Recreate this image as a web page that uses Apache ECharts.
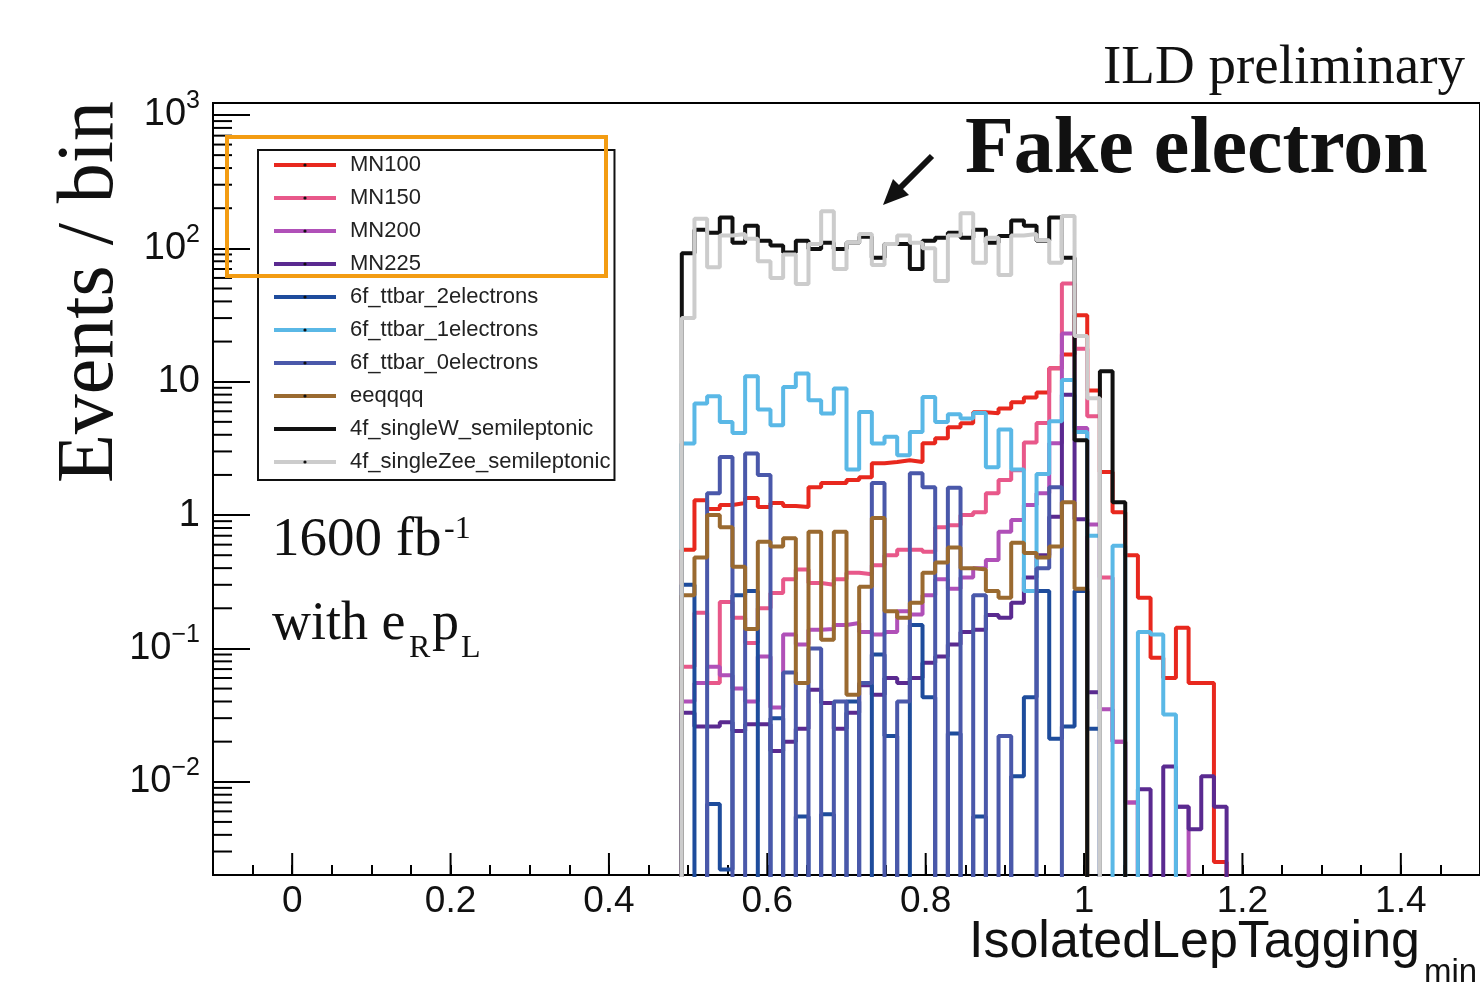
<!DOCTYPE html>
<html>
<head>
<meta charset="utf-8">
<script src="https://cdn.jsdelivr.net/npm/echarts@6/dist/echarts.min.js"></script>
<style>
html, body { margin: 0; padding: 0; background: #fff; }
#chart { width: 1480px; height: 990px; }
</style>
</head>
<body>
<div id="chart"></div>
<script>
// binning: 100 bins over [-0.1, 1.5], the filled ones start at 0.492
const firstEdge = 0.492
const binWidth = 0.016
const emptyBin = 1e-6   // zero content, drawn below the frame like ROOT does on log scale

const names = ["MN100", "MN150", "MN200", "MN225", "6f_ttbar_2electrons", "6f_ttbar_1electrons",
    "6f_ttbar_0electrons", "eeqqqq", "4f_singleW_semileptonic", "4f_singleZee_semileptonic"]
const colors = ["#e8281e", "#e8588a", "#b050b8", "#5a2a90", "#1e4c9c", "#5ab8e6",
    "#4a58aa", "#9a6a30", "#111111", "#cccccc"]

// events per bin, first entry = bin starting at firstEdge
const mn100 = [0.55, 1.29, 1.11, 1.19, 1.23, 1.34, 1.15, 1.23, 1.17, 1.15, 1.62, 1.74, 1.74, 1.83, 1.92, 2.45,
    2.5, 2.58, 2.5, 3.46, 3.77, 4.56, 4.88, 5.9, 5.8, 6.3, 7.0, 7.6, 8.3, 12.6, 16, 31.5, 8.6, 2.1, 1.05, 0.5,
    0.24, 0.085, 0.06, 0.143, 0.055, 0.055, 0.0025]
const mn150 = [0.073, 0.185, 0.055, 0.223, 0.17, 0.11, 0.2, 0.26, 0.33, 0.39, 0.31, 0.3, 0.33, 0.37, 0.36, 0.42,
    0.5, 0.55, 0.55, 0.53, 0.81, 0.84, 1.0, 1.05, 1.46, 1.83, 2.17, 3.5, 4.9, 12.6, 54.5, 17.7, 5.5, 0.34, 0.02, 0.007]
const mn200 = [0.04, 0.055, 0.073, 0.063, 0.05, 0.04, 0.087, 0.036, 0.127, 0.107, 0.138, 0.14, 0.15, 0.155, 0.133,
    0.127, 0.133, 0.19, 0.18, 0.25, 0.33, 0.28, 0.34, 0.4, 0.46, 0.75, 0.92, 1.19, 1.46, 3.46, 23, 4.5, 0.85, 0.035,
    0.02, 0.007, 0, 0, 0, 0.0065]
const mn225 = [0.033, 0.026, 0.026, 0.028, 0.024, 0.027, 0.027, 0.017, 0.02, 0.025, 0.049, 0.039, 0.025, 0.033, 0.053,
    0.045, 0.06, 0.055, 0.06, 0.078, 0.087, 0.107, 0.133, 0.138, 0.178, 0.17, 0.22, 0.34, 0.5, 0.97, 8.0, 0.93, 0.047,
    0, 0, 0, 0.0088, 0, 0.013, 0.0065, 0.0044, 0.011, 0.0065]
const ttbar2e = [0.3, 0, 0.0068, 0.0022, 0.25, 0.27, 0, 0.03, 0, 0.0055, 0, 0.0057, 0, 0.04, 0, 0.09, 0.022, 0, 0.15,
    0.043, 0, 0.023, 0, 0.0055, 0, 0, 0.011, 0.043, 0.27, 0.021, 0.026, 0.27, 0.025]
const ttbar1e = [3.44, 6.86, 7.78, 4.99, 4.13, 10.97, 6.18, 4.72, 9.13, 11.5, 7.26, 5.77, 8.88, 2.2, 5.93, 3.44, 3.86,
    2.81, 4.2, 7.68, 4.99, 5.7, 5.3, 5.83, 2.28, 4.38, 2.2, 0.27, 2.03, 5.05, 10.3, 4.2, 0.7, 0, 0.59, 0, 0.133, 0.127, 0.032]
const ttbar0e = [0, 0, 1.46, 2.72, 0, 2.9, 2.0, 0, 0.066, 0, 0.1, 0, 0.04, 0, 0.055, 1.74, 0, 0.04, 2.06, 1.62, 0, 1.6,
    0, 0.25, 0, 0.022, 0, 0, 0.4, 1.62, 0]
const eeqqqq = [0.25, 0.48, 1.0, 0.81, 0.41, 0.14, 0.63, 0.58, 0.67, 0.055, 0.75, 0.116, 0.75, 0.045, 0.29, 0.95, 0.19,
    0.17, 0.22, 0.37, 0.44, 0.57, 0.4, 0.39, 0.27, 0.24, 0.62, 0.52, 0.48, 0.58, 1.25, 0.28]
const singleW = [92, 138, 131, 170, 110, 148, 114, 105, 93, 114, 99, 110, 99, 110, 122, 85, 108, 108, 70, 114, 120, 131,
    120, 138, 110, 124, 162, 148, 114, 170, 85, 3.64, 0, 12, 1.25]
const singleZee = [30, 167, 72, 125, 128, 118, 80, 60, 90, 54, 108, 190, 70, 110, 128, 75, 108, 125, 110, 100, 57, 125,
    183, 78, 120, 63, 125, 128, 115, 78, 175, 22, 7.5]

const histos = [mn100, mn150, mn200, mn225, ttbar2e, ttbar1e, ttbar0e, eeqqqq, singleW, singleZee]

// axis ticks
const xMin = -0.1, xMax = 1.5
const yMin = 0.002, yMax = 1230
const xMajorTicks = [0, 0.2, 0.4, 0.6, 0.8, 1.0, 1.2, 1.4]
const yMinorTicks = [0.003, 0.004, 0.005, 0.006, 0.007, 0.008, 0.009,
    0.02, 0.03, 0.04, 0.05, 0.06, 0.07, 0.08, 0.09,
    0.2, 0.3, 0.4, 0.5, 0.6, 0.7, 0.8, 0.9,
    2, 3, 4, 5, 6, 7, 8, 9,
    20, 30, 40, 50, 60, 70, 80, 90,
    200, 300, 400, 500, 600, 700, 800, 900]

const serif = "'Liberation Serif', 'DejaVu Serif', serif"
const sans = "'Liberation Sans', Arial, sans-serif"

function histPoints(vals) {
    let pts = [[firstEdge - binWidth, emptyBin]]
    vals.forEach(function (v, i) {
        pts.push([+(firstEdge + i * binWidth).toFixed(4), v > 0 ? v : emptyBin])
    })
    pts.push([+(firstEdge + vals.length * binWidth).toFixed(4), emptyBin])
    return pts
}

let series = histos.map(function (vals, i) {
    return {
        name: names[i],
        type: 'line',
        step: 'end',
        data: histPoints(vals),
        showSymbol: false,
        symbol: 'circle',
        symbolSize: 3,
        clip: true,
        silent: true,
        z: 10 + i,
        lineStyle: {color: colors[i], width: 4},
        itemStyle: {color: colors[i]}
    }
})

series.push({
    type: 'custom',
    silent: true,
    z: 5,
    data: xMajorTicks.map(function (v) { return [v, yMin] }),
    renderItem: function (params, api) {
        let p = api.coord([api.value(0), yMin])
        return {type: 'line', shape: {x1: p[0], y1: p[1], x2: p[0], y2: p[1] - 22},
            style: {stroke: '#000', lineWidth: 2}}
    }
})
series.push({
    type: 'custom',
    silent: true,
    z: 5,
    data: yMinorTicks.map(function (v) { return [xMin, v] }),
    renderItem: function (params, api) {
        let p = api.coord([xMin, api.value(1)])
        return {type: 'line', shape: {x1: p[0], y1: p[1], x2: p[0] + 19, y2: p[1]},
            style: {stroke: '#000', lineWidth: 2}}
    }
})

let chart = echarts.init(document.getElementById('chart'))

let option = {
    animation: false,
    backgroundColor: '#fff',
    grid: {
        left: 213, right: 0, top: 103, bottom: 115,
        show: true, borderColor: '#000', borderWidth: 2,
        outerBoundsMode: 'none'
    },
    xAxis: {
        type: 'value', min: xMin, max: xMax, interval: 0.05,
        axisLine: {onZero: false, lineStyle: {color: '#000', width: 2}},
        axisTick: {inside: true, length: 10, lineStyle: {color: '#000', width: 2}},
        splitLine: {show: false},
        axisLabel: {
            margin: 8, fontSize: 37, color: '#111', fontFamily: sans,
            showMinLabel: false, showMaxLabel: false,
            formatter: function (v) {
                let k = v / 0.2
                if (Math.abs(k - Math.round(k)) > 1e-6 || v < -1e-9) return ''
                return String(+v.toFixed(1))
            }
        }
    },
    yAxis: {
        type: 'log', logBase: 10, min: yMin, max: yMax,
        axisLine: {show: true, onZero: false, lineStyle: {color: '#000', width: 2}},
        axisTick: {inside: true, length: 37, lineStyle: {color: '#000', width: 2}},
        splitLine: {show: false},
        minorTick: {show: false},
        axisLabel: {
            margin: 13, color: '#111', fontFamily: sans,
            showMinLabel: false, showMaxLabel: false,
            formatter: function (v) {
                let e = Math.log10(v)
                let n = Math.round(e)
                if (Math.abs(e - n) > 0.01) return ''
                if (n === 0) return '{b|1}'
                if (n === 1) return '{b|10}'
                return '{b|10}{s|' + (n < 0 ? '\u2212' + (-n) : n) + '}'
            },
            rich: {
                b: {fontSize: 38, lineHeight: 52, fontFamily: sans, color: '#111'},
                s: {fontSize: 25, lineHeight: 25, fontFamily: sans, color: '#111', verticalAlign: 'top'}
            }
        }
    },
    legend: {
        orient: 'vertical', left: 258, top: 150, z: 50,
        padding: [4, 4, 7, 14], itemGap: 11, itemWidth: 62, itemHeight: 4,
        backgroundColor: '#fff', borderColor: '#111', borderWidth: 2,
        selectedMode: false,
        data: names,
        itemStyle: {color: '#111', borderWidth: 0},
        lineStyle: {width: 4},
        textStyle: {fontFamily: sans, fontSize: 22, lineHeight: 22, color: '#222', padding: [0, 0, 0, 9]}
    },
    graphic: [
        {type: 'text', x: 1465, y: 69, z: 60,
            style: {text: 'ILD preliminary', fontSize: 55, fontFamily: serif, fill: '#111', align: 'right', verticalAlign: 'middle'}},
        {type: 'text', x: 965, y: 151, z: 60,
            style: {text: 'Fake electron', fontSize: 80, fontWeight: 'bold', fontFamily: serif, fill: '#111', align: 'left', verticalAlign: 'middle'}},
        {type: 'line', z: 60, shape: {x1: 932, y1: 156, x2: 898, y2: 190}, style: {stroke: '#111', lineWidth: 6}},
        {type: 'polygon', z: 60, shape: {points: [[883, 205], [909, 195], [893, 179]]}, style: {fill: '#111'}},
        {type: 'text', x: 91, y: 292, rotation: Math.PI / 2, z: 60,
            style: {text: 'Events / bin', fontSize: 80, fontFamily: serif, fill: '#111', align: 'center', verticalAlign: 'middle'}},
        {type: 'text', x: 1420, y: 943, z: 60,
            style: {text: 'IsolatedLepTagging', fontSize: 52, fontFamily: sans, fill: '#111', align: 'right', verticalAlign: 'middle'}},
        {type: 'text', x: 1424, y: 973, z: 60,
            style: {text: 'min', fontSize: 33, fontFamily: sans, fill: '#111', align: 'left', verticalAlign: 'middle'}},
        {type: 'text', x: 272, y: 541, z: 60,
            style: {text: '1600 fb', fontSize: 55, fontFamily: serif, fill: '#111', align: 'left', verticalAlign: 'middle'}},
        {type: 'text', x: 444, y: 530, z: 60,
            style: {text: '-1', fontSize: 32, fontFamily: serif, fill: '#111', align: 'left', verticalAlign: 'middle'}},
        {type: 'text', x: 272, y: 625, z: 60,
            style: {text: 'with e', fontSize: 54, fontFamily: serif, fill: '#111', align: 'left', verticalAlign: 'middle'}},
        {type: 'text', x: 409, y: 649, z: 60,
            style: {text: 'R', fontSize: 32, fontFamily: serif, fill: '#111', align: 'left', verticalAlign: 'middle'}},
        {type: 'text', x: 432, y: 625, z: 60,
            style: {text: 'p', fontSize: 54, fontFamily: serif, fill: '#111', align: 'left', verticalAlign: 'middle'}},
        {type: 'text', x: 461, y: 649, z: 60,
            style: {text: 'L', fontSize: 32, fontFamily: serif, fill: '#111', align: 'left', verticalAlign: 'middle'}},
        {type: 'rect', z: 61, shape: {x: 227, y: 137, width: 379, height: 139},
            style: {fill: 'none', stroke: '#f39c12', lineWidth: 4}}
    ],
    series: series
}

chart.setOption(option)
</script>
</body>
</html>
